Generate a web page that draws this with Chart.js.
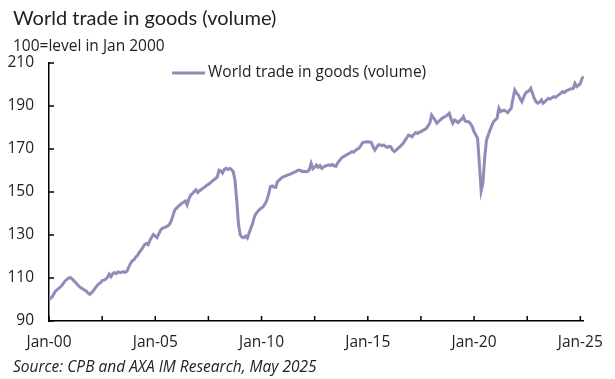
<!DOCTYPE html>
<html>
<head>
<meta charset="utf-8">
<script src="https://cdn.jsdelivr.net/npm/chart.js@4"></script>
<style>
  html, body { margin: 0; padding: 0; background: #fff; }
  #wrap { position: relative; width: 615px; height: 379px; font-family: "Open Sans", Lato, sans-serif; color: #222; }
  #chart { position: absolute; left: 0; top: 0; }
  .txt { position: absolute; white-space: nowrap; }
  #title { left: 13px; top: 5px; font-size: 20px; font-family: Lato, sans-serif; }
  #sub { left: 13px; top: 34px; font-size: 15.5px; }
  #src { left: 13px; top: 355px; font-size: 15.5px; font-style: italic; }
</style>
</head>
<body>
<div id="wrap">
  <canvas id="chart" width="615" height="379"></canvas>
  <div class="txt" id="title">World trade in goods (volume)</div>
  <div class="txt" id="sub">100=level in Jan 2000</div>
  <div class="txt" id="src">Source: CPB and AXA IM Research, May 2025</div>
</div>
<script>
// monthly index, 100 = Jan 2000
const trade2000_04 = [
  100.0, 100.6, 101.5, 103.0, 104.2, 104.8, 105.5, 106.3, 107.4, 108.5, 109.3, 110.0,
  110.3, 109.6, 108.8, 107.9, 107.0, 106.1, 105.5, 105.0, 104.4, 104.0, 103.0, 102.4,
  103.2, 104.0, 105.2, 106.3, 107.2, 107.6, 108.8, 109.0, 109.4, 110.3, 111.8, 110.6,
  112.0, 112.5, 112.0, 112.8, 112.6, 112.7, 113.0, 112.6, 113.1, 115.0, 116.8, 118.0,
  118.5, 119.8, 120.5, 122.0, 123.0, 124.2, 125.5, 126.0, 125.5, 127.5, 129.0, 130.2
];
const trade2005_09 = [
  129.5, 128.8, 130.5, 132.3, 133.1, 133.4, 133.8, 134.2, 135.0, 136.5, 139.0, 141.6,
  142.5, 143.3, 144.0, 144.8, 145.2, 145.8, 144.0, 146.8, 148.6, 149.2, 150.2, 151.0,
  149.8, 150.6, 151.2, 151.8, 152.4, 153.0, 153.6, 154.2, 154.9, 155.6, 156.2, 157.0,
  160.2, 159.8, 158.8, 160.5, 161.0, 160.5, 161.0, 160.4, 159.5, 155.6, 146.0, 135.0,
  130.0, 129.0, 128.8, 129.5, 128.6, 131.0, 133.2, 135.5, 138.5, 140.2, 141.0, 142.0
];
const trade2010_14 = [
  142.5, 143.2, 144.5, 146.2, 149.0, 152.5, 152.8, 152.3, 152.2, 154.8, 155.5, 156.3,
  157.0, 157.3, 157.6, 158.0, 158.2, 158.6, 159.0, 159.3, 159.8, 160.2, 160.0, 159.5,
  159.6, 159.4, 159.5, 160.5, 163.3, 160.8, 161.5, 162.6, 161.5, 162.3, 161.0, 161.6,
  162.0, 162.4, 162.6, 162.3, 162.8, 162.2, 162.0, 163.5, 164.6, 165.7, 166.3, 166.8,
  167.3, 167.7, 168.2, 168.8, 168.5, 169.3, 170.0, 170.3, 171.5, 172.9, 173.2, 173.3
];
const trade2015_19 = [
  173.4, 173.3, 173.0, 171.0, 169.5, 170.8, 171.9, 172.0, 171.6, 171.9, 171.2, 170.8,
  171.2, 171.0, 169.5, 168.8, 169.5, 170.3, 171.0, 171.8, 172.6, 174.0, 175.2, 176.5,
  176.2, 175.7, 176.8, 177.6, 177.2, 177.8, 178.0, 178.6, 179.0, 179.6, 180.8, 182.0,
  185.8, 184.5, 183.5, 182.0, 182.8, 183.6, 184.3, 184.8, 185.2, 185.8, 186.6, 184.0,
  182.0, 183.5, 183.0, 182.3, 183.2, 183.8, 185.0, 183.0, 182.7, 182.7, 181.8, 180.4
];
const trade2020_25 = [
  178.0, 176.5, 175.0, 163.0, 150.5, 154.0, 166.0, 174.0, 176.5, 178.8, 180.8, 182.7,
  183.5, 184.3, 189.0, 187.4, 187.8, 188.1, 187.5, 186.9, 188.0, 189.0, 193.6, 197.4,
  196.0, 195.1, 193.5, 192.0, 194.0, 195.9, 196.7, 197.0, 198.2, 195.9, 193.5, 192.0,
  191.3, 191.8, 192.8, 191.3, 192.0, 192.8, 193.6, 193.2, 193.8, 194.3, 194.0, 194.7,
  195.3, 195.9, 196.7, 196.2, 197.0, 197.4, 197.8, 198.0, 198.2, 200.5, 199.0, 199.6,
  200.5, 202.9, 203.6
];
const tradeValues = [].concat(trade2000_04, trade2005_09, trade2010_14, trade2015_19, trade2020_25);
const xTickMonths = [0, 30, 60, 90, 120, 150, 180, 210, 240, 270, 300];
const xTickLabels = { 0: 'Jan-00', 60: 'Jan-05', 120: 'Jan-10', 180: 'Jan-15', 240: 'Jan-20', 300: 'Jan-25' };
const seriesName = 'World trade in goods (volume)';

const lineColor = 'rgb(142, 140, 184)';
const fontFamily = '"Open Sans", Lato, sans-serif';

// small inward tick marks + legend inside plot
const extras = {
  id: 'extras',
  afterDraw(chart) {
    const c = chart.ctx;
    const xs = chart.scales.x, ys = chart.scales.y;
    c.save();
    c.strokeStyle = '#000';
    c.lineWidth = 1.5;
    xs.ticks.forEach(t => {
      const px = xs.getPixelForValue(t.value);
      c.beginPath(); c.moveTo(px, ys.bottom); c.lineTo(px, ys.bottom - 5); c.stroke();
    });
    ys.ticks.forEach(t => {
      const py = ys.getPixelForValue(t.value);
      c.beginPath(); c.moveTo(xs.left, py); c.lineTo(xs.left + 5, py); c.stroke();
    });
    // legend
    c.strokeStyle = lineColor;
    c.lineWidth = 3;
    c.beginPath(); c.moveTo(172, 73); c.lineTo(205, 73); c.stroke();
    c.fillStyle = '#222';
    c.font = '15.5px ' + fontFamily;
    c.textBaseline = 'middle';
    c.fillText(seriesName, 208, 73);
    c.restore();
  }
};

const chart = new Chart(document.getElementById('chart').getContext('2d'), {
  type: 'line',
  data: {
    datasets: [{
      label: seriesName,
      data: tradeValues.map(function(v, i) { return { x: i, y: v }; }),
      borderColor: lineColor,
      borderWidth: 3,
      pointRadius: 0,
      tension: 0,
      fill: false
    }]
  },
  options: {
    responsive: false,
    animation: false,
    layout: { padding: { left: 0, top: 63, right: 27, bottom: 0 } },
    plugins: {
      legend: { display: false },
      tooltip: { enabled: false }
    },
    scales: {
      x: {
        type: 'linear',
        min: 0,
        max: 302,
        afterBuildTicks: function(scale) {
          scale.ticks = xTickMonths.map(v => ({ value: v }));
        },
        afterFit: function(scale) { scale.height = 58; },
        grid: { drawOnChartArea: false, drawTicks: false },
        border: { display: true, color: '#000', width: 1.5 },
        ticks: {
          autoSkip: false,
          maxRotation: 0,
          padding: 12,
          color: '#222',
          font: { family: fontFamily, size: 15.5 },
          callback: function(v) { return xTickLabels[v] || ''; }
        }
      },
      y: {
        min: 90,
        max: 210,
        afterFit: function(scale) { scale.width = 49; },
        grid: { drawOnChartArea: false, drawTicks: false },
        border: { display: true, color: '#000', width: 1.5 },
        ticks: {
          stepSize: 20,
          padding: 15,
          color: '#222',
          font: { family: fontFamily, size: 15.5 }
        }
      }
    }
  },
  plugins: [extras]
});
</script>
</body>
</html>
